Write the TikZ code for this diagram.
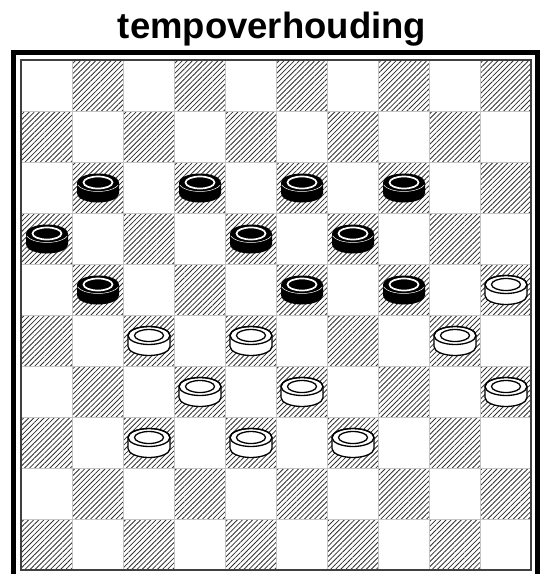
\documentclass[tikz,border=0pt]{standalone}
\usepackage{fontspec}
\setmainfont{Liberation Sans}
\usetikzlibrary{patterns.meta}
\definecolor{hatch}{HTML}{2E2E2E}
\definecolor{line}{HTML}{C4C4C4}

\begin{document}
\begin{tikzpicture}[x=1pt,y=-1pt,
  darksq/.style={pattern={Lines[angle=45,distance=3.6pt,line width=0.8pt]},pattern color=hatch},
  disc/.style={line width=1.3pt,line join=round},
  blackman/.pic={
    \fill (-21,-5) -- (-21,6) arc[start angle=180,end angle=0,x radius=21,y radius=9]
      -- (21,-5) arc[start angle=0,end angle=-180,x radius=21,y radius=9] -- cycle;
    \draw[white,line width=0.5pt] (0,-5) ++(165:21 and 9) arc[start angle=165,end angle=15,x radius=21,y radius=9];
    \draw[white,line width=1.7pt] (0,-5) ellipse[x radius=14.5,y radius=6];
  },
  whiteman/.pic={
    \filldraw[disc,fill=white] (-21,-5) -- (-21,6) arc[start angle=180,end angle=0,x radius=21,y radius=9]
      -- (21,-5) arc[start angle=0,end angle=-180,x radius=21,y radius=9] -- cycle;
    \draw[disc] (0,-5) ellipse[x radius=21,y radius=9];
    \draw[disc] (0,-5) ellipse[x radius=14.5,y radius=6];
  }]
\useasboundingbox (0,0) rectangle (544,574);
\clip (0,0) rectangle (544,574);

\node[font=\bfseries\fontsize{36.5}{40}\selectfont,anchor=base] (title) at (272,38) {tempoverhouding};

% board
\foreach \r in {0,...,9}
  \foreach \c in {0,...,9} {
    \pgfmathtruncatemacro\odd{mod(\r+\c,2)}
    \ifnum\odd=1 \path[darksq] (21+51*\c,60+51*\r) rectangle ++(51,51); \fi
  }
\foreach \i in {1,...,9} {
  \draw[line,line width=0.8pt] (21+51*\i,60) -- (21+51*\i,570);
  \draw[line,line width=0.8pt] (21,60+51*\i) -- (531,60+51*\i);
}
\draw[black!75,line width=1.2pt] (21,60) rectangle (531,570);
\draw[line width=5.5pt] (13.5,52.5) rectangle (537.5,584.5);

% pieces
\foreach \c/\r in {1/2,3/2,5/2,7/2,0/3,4/3,6/3,1/4,5/4,7/4}
  \pic (b\c\r) at (47+51*\c,85.5+51*\r) {blackman};
\foreach \c/\r in {9/4,2/5,4/5,8/5,3/6,5/6,9/6,2/7,4/7,6/7}
  \pic (w\c\r) at (47+51*\c,85.5+51*\r) {whiteman};
\end{tikzpicture}
\end{document}
